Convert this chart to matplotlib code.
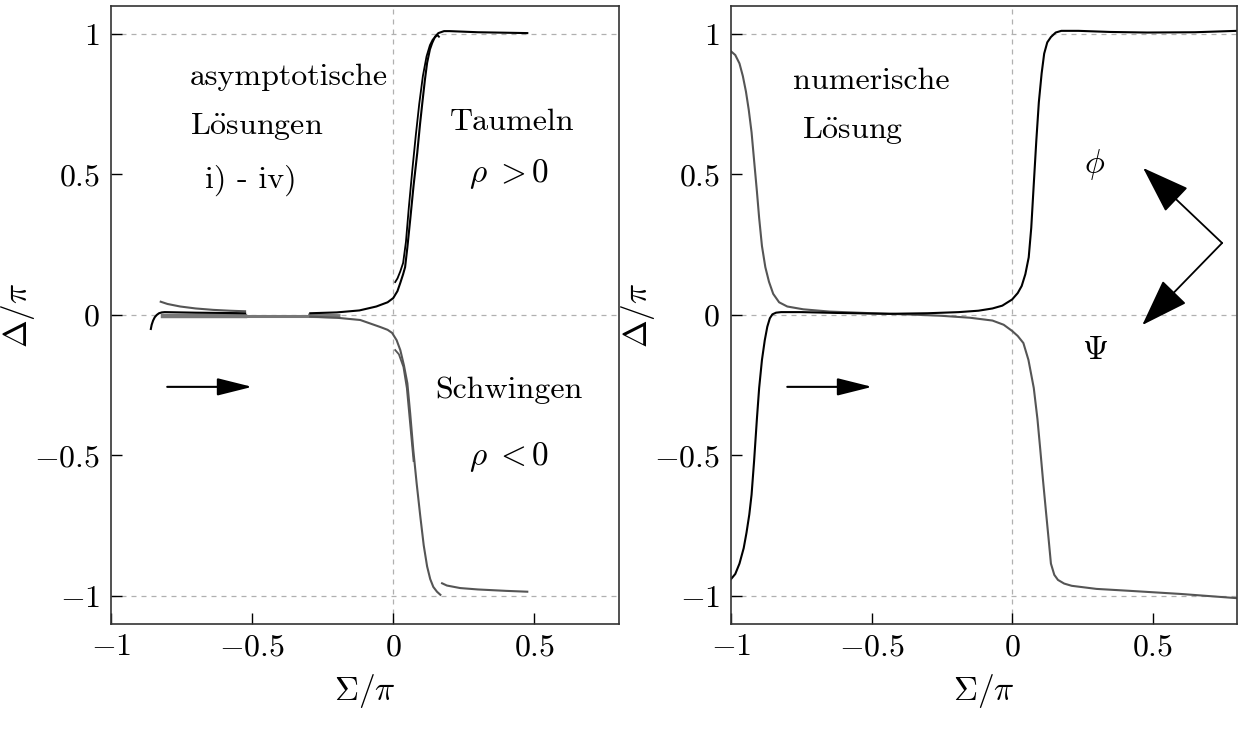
import matplotlib
matplotlib.use("Agg")
import matplotlib.pyplot as plt

plt.rcParams['mathtext.fontset'] = 'cm'
plt.rcParams['font.family'] = ['cmr10', 'DejaVu Serif']
plt.rcParams['axes.formatter.use_mathtext'] = True

# ---- left panel: asymptotic solutions (pieces) ----
blk_left_x = [-0.859, -0.856, -0.851, -0.845, -0.838, -0.83, -0.82, -0.81, -0.7, -0.6, -0.525]
blk_left_y = [-0.05, -0.035, -0.02, -0.008, 0.0, 0.006, 0.009, 0.01, 0.008, 0.007, 0.006]

gry_left_x = [-0.824, -0.8, -0.755, -0.7, -0.638, -0.58, -0.525]
gry_left_y = [0.047, 0.039, 0.03, 0.023, 0.018, 0.015, 0.013]

gry_flat_x = [-0.815, -0.525, -0.294, -0.195]
gry_flat_y = [-0.003, -0.003, -0.003, -0.005]

blk_rise_x = [-0.294, -0.2, -0.12, -0.06, -0.02, 0.0, 0.015, 0.025, 0.035, 0.042, 0.05, 0.06, 0.072,
              0.085, 0.095, 0.103, 0.112, 0.12, 0.13, 0.138, 0.148, 0.16, 0.18, 0.2, 0.3, 0.475]
blk_rise_y = [0.006, 0.009, 0.016, 0.03, 0.045, 0.06, 0.085, 0.114, 0.145, 0.17, 0.24, 0.338, 0.46,
              0.576, 0.68, 0.754, 0.835, 0.897, 0.945, 0.968, 0.99, 1.003, 1.01, 1.01, 1.006, 1.003]

blk_iii_x = [0.007, 0.015, 0.025, 0.035, 0.045, 0.055, 0.068, 0.08, 0.092, 0.105, 0.118, 0.13, 0.14, 0.15, 0.158, 0.162]
blk_iii_y = [0.117, 0.13, 0.155, 0.185, 0.26, 0.38, 0.52, 0.64, 0.75, 0.85, 0.92, 0.96, 0.98, 0.99, 0.995, 0.99]

gry_fall_x = [-0.294, -0.2, -0.117, -0.046, -0.02, -0.004, 0.012, 0.025, 0.038, 0.05, 0.06, 0.071,
              0.083, 0.096, 0.108, 0.12, 0.131, 0.142, 0.155, 0.167]
gry_fall_y = [-0.006, -0.01, -0.018, -0.043, -0.053, -0.064, -0.09, -0.125, -0.18, -0.243, -0.35, -0.48,
              -0.6, -0.718, -0.82, -0.895, -0.94, -0.968, -0.985, -0.996]

gry_iii_x = [0.007, 0.02, 0.036, 0.048, 0.06, 0.072]
gry_iii_y = [-0.125, -0.14, -0.185, -0.26, -0.39, -0.52]

gry_tail_x = [0.173, 0.19, 0.237, 0.3, 0.4, 0.475]
gry_tail_y = [-0.955, -0.963, -0.972, -0.977, -0.982, -0.985]

# ---- right panel: numerical solution ----
phi_x = [-1.0, -0.985, -0.97, -0.955, -0.945, -0.935, -0.927, -0.918, -0.908, -0.9, -0.89, -0.88,
         -0.871, -0.862, -0.853, -0.84, -0.822, -0.75, -0.62, -0.5, -0.437, -0.3, -0.19, -0.12, -0.07,
         -0.035, 0.0, 0.02, 0.034, 0.047, 0.059, 0.068, 0.077, 0.086, 0.095, 0.105, 0.114, 0.125,
         0.138, 0.155, 0.175, 0.236, 0.35, 0.48, 0.65, 0.8]
phi_y = [-0.94, -0.922, -0.885, -0.83, -0.775, -0.71, -0.64, -0.52, -0.37, -0.26, -0.16, -0.09,
         -0.042, -0.012, 0.002, 0.008, 0.01, 0.01, 0.007, 0.005, 0.004, 0.006, 0.01, 0.015, 0.023,
         0.033, 0.055, 0.078, 0.103, 0.145, 0.205, 0.31, 0.466, 0.62, 0.757, 0.86, 0.93, 0.97,
         0.989, 1.005, 1.011, 1.011, 1.007, 1.005, 1.006, 1.011]

psi_x = [-1.0, -0.985, -0.97, -0.958, -0.947, -0.937, -0.927, -0.918, -0.908, -0.9, -0.89, -0.878,
         -0.865, -0.85, -0.829, -0.8, -0.743, -0.65, -0.498, -0.35, -0.253, -0.15, -0.07, -0.03, 0.0,
         0.02, 0.04, 0.058, 0.077, 0.09, 0.1, 0.11, 0.12, 0.13, 0.138, 0.15, 0.163, 0.185, 0.212, 0.3,
         0.42, 0.6, 0.8]
psi_y = [0.938, 0.925, 0.895, 0.85, 0.795, 0.73, 0.65, 0.55, 0.44, 0.345, 0.245, 0.17, 0.118, 0.075,
         0.045, 0.03, 0.02, 0.012, 0.006, 0.001, -0.003, -0.01, -0.02, -0.035, -0.057, -0.075, -0.10,
         -0.16, -0.26, -0.37, -0.478, -0.59, -0.696, -0.8, -0.885, -0.925, -0.943, -0.956, -0.964,
         -0.975, -0.982, -0.993, -1.008]

xticks = [-1, -0.5, 0, 0.5]
xticklabels = [r'$-1$', r'$-0.5$', r'$0$', r'$0.5$']
yticks = [-1, -0.5, 0, 0.5, 1]
yticklabels = [r'$-1$', r'$-0.5$', r'$0$', r'$0.5$', r'$1$']

BLACK = '#000000'
GREY = '#555555'

fig = plt.figure(figsize=(12.38, 7.29), dpi=100)
ax1 = fig.add_axes([0.0897, 0.144, 0.4103, 0.848])
ax2 = fig.add_axes([0.5905, 0.144, 0.4087, 0.848])


def setup(ax):
    ax.set_xlim(-1, 0.8)
    ax.set_ylim(-1.1, 1.1)
    for y in [-1, 0, 1]:
        ax.axhline(y, color='#b0b0b0', lw=0.9, ls=(0, (4, 4)), zorder=0)
    ax.axvline(0, color='#b0b0b0', lw=0.9, ls=(0, (4, 4)), zorder=0)
    ax.set_xticks(xticks)
    ax.set_xticklabels(xticklabels, fontsize=23)
    ax.set_yticks(yticks)
    ax.set_yticklabels(yticklabels, fontsize=23)
    ax.tick_params(direction='in', length=8, width=1, top=False, right=False)
    ax.tick_params(axis='x', pad=7)
    ax.tick_params(axis='y', pad=8)
    for s in ax.spines.values():
        s.set_linewidth(1.2)
        s.set_color('#333333')
    ax.set_xlabel(r'$\Sigma/\pi$', fontsize=24, labelpad=8)
    ax.set_ylabel(r'$\Delta/\pi$', fontsize=24)
    ax.yaxis.set_label_coords(-0.146, 0.5)


setup(ax1)
setup(ax2)

# left panel
ax1.plot(gry_flat_x[:2], gry_flat_y[:2], color='#777777', lw=3.2)
ax1.plot(gry_flat_x[1:3], gry_flat_y[1:3], color='#777777', lw=2.2)
ax1.plot(gry_flat_x[2:], gry_flat_y[2:], color='#777777', lw=3.2)
ax1.plot(blk_left_x, blk_left_y, color=BLACK, lw=1.5)
ax1.plot(gry_left_x, gry_left_y, color=GREY, lw=1.5)
ax1.plot(blk_rise_x, blk_rise_y, color=BLACK, lw=1.5)
ax1.plot(blk_iii_x, blk_iii_y, color=BLACK, lw=1.3)
ax1.plot(gry_fall_x, gry_fall_y, color=GREY, lw=1.5)
ax1.plot(gry_iii_x, gry_iii_y, color=GREY, lw=1.3)
ax1.plot(gry_tail_x, gry_tail_y, color=GREY, lw=1.5)

ax1.annotate('', xy=(-0.5, -0.256), xytext=(-0.801, -0.256),
             arrowprops=dict(arrowstyle='-|>,head_length=0.8,head_width=0.2',
                             mutation_scale=27, lw=1.5, color='k', shrinkA=0, shrinkB=0))

fs = 23
ax1.text(-0.72, 0.847, 'asymptotische', fontsize=fs, ha='left', va='center')
ax1.text(-0.72, 0.669, r'L$\ddot{\mathrm{o}}$sungen', fontsize=fs, ha='left', va='center')
ax1.text(-0.667, 0.48, 'i) - iv)', fontsize=fs, ha='left', va='center')
ax1.text(0.422, 0.687, 'Taumeln', fontsize=fs, ha='center', va='center')
ax1.text(0.41, 0.50, r'$\rho\;{>}0$', fontsize=fs + 1, ha='center', va='center')
ax1.text(0.41, -0.267, 'Schwingen', fontsize=fs, ha='center', va='center')
ax1.text(0.41, -0.505, r'$\rho\;{<}0$', fontsize=fs + 1, ha='center', va='center')

# right panel
ax2.plot(psi_x, psi_y, color=GREY, lw=1.5)
ax2.plot(phi_x, phi_y, color=BLACK, lw=1.5)

ax2.annotate('', xy=(-0.498, -0.256), xytext=(-0.80, -0.256),
             arrowprops=dict(arrowstyle='-|>,head_length=0.8,head_width=0.2',
                             mutation_scale=27, lw=1.5, color='k', shrinkA=0, shrinkB=0))
for tip in [(0.466, 0.523), (0.463, -0.036)]:
    ax2.annotate('', xy=tip, xytext=(0.747, 0.256),
                 arrowprops=dict(arrowstyle='-|>,head_length=0.98,head_width=0.34',
                                 mutation_scale=31, lw=1.3, color='k', shrinkA=0, shrinkB=0))

ax2.text(-0.779, 0.833, 'numerische', fontsize=fs, ha='left', va='center')
ax2.text(-0.747, 0.655, r'L$\ddot{\mathrm{o}}$sung', fontsize=fs, ha='left', va='center')
ax2.text(0.295, 0.534, r'$\phi$', fontsize=fs + 1, ha='center', va='center')
ax2.text(0.295, -0.125, r'$\Psi$', fontsize=fs + 1, ha='center', va='center')

fig.savefig('out.png', dpi=100)
